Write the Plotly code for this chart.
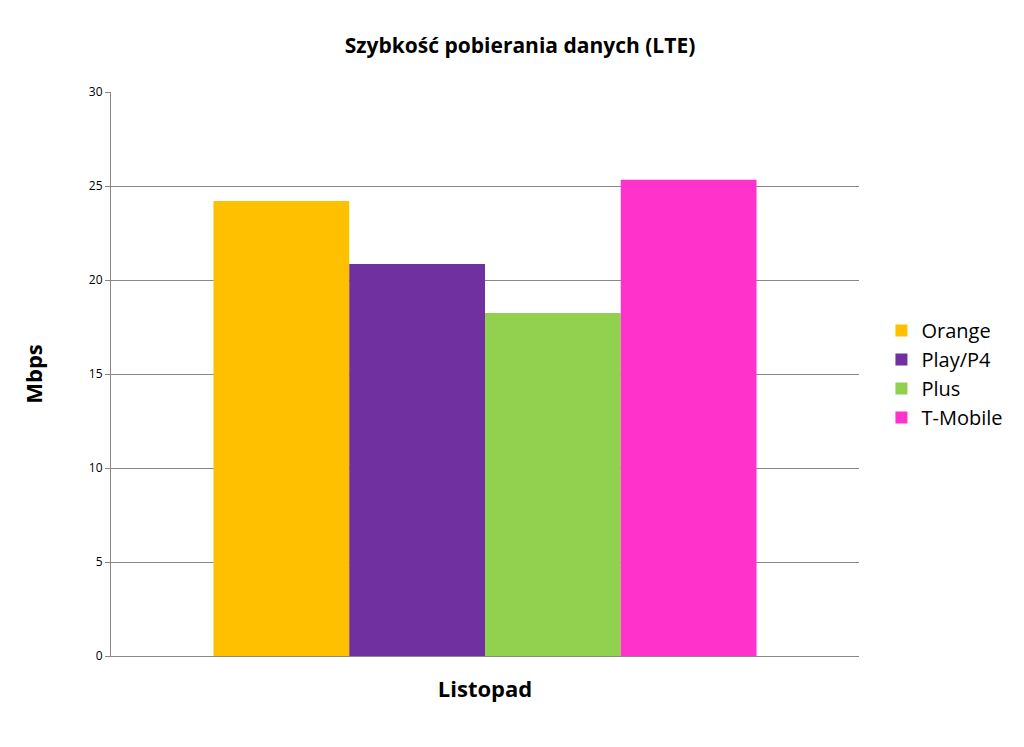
import plotly.graph_objects as go

operators = ["Orange", "Play/P4", "Plus", "T-Mobile"]
speeds = [24.2, 20.85, 18.25, 25.33]
colors = ["#FFC000", "#7030A0", "#92D050", "#FF33CC"]
category = ["Listopad"]

fig = go.Figure()
for name, val, col in zip(operators, speeds, colors):
    fig.add_trace(go.Bar(x=category, y=[val], name=name, marker_color=col,
                         marker_line_width=0))

fig.update_layout(
    width=1024, height=747,
    paper_bgcolor="white", plot_bgcolor="white",
    font=dict(family="Open Sans, DejaVu Sans", color="black"),
    title=dict(text="<b>Szybkość pobierania danych (LTE)</b>", x=0.5, y=0.96,
               xanchor="center", font=dict(size=21)),
    margin=dict(l=103, r=173, t=84, b=99, autoexpand=False),
    barmode="group", bargap=0.274, bargroupgap=0,
    legend=dict(x=1.03, y=0.5, yanchor="middle", font=dict(size=20),
                tracegroupgap=0, itemwidth=30),
    xaxis=dict(title=dict(text="<b>Listopad</b>", font=dict(size=22), standoff=25),
               showticklabels=False, showline=True, linecolor="#888",
               ticks=""),
    yaxis=dict(title=dict(text="<b>Mbps</b>", font=dict(size=22), standoff=40),
               range=[0, 30], dtick=5, showgrid=True, gridcolor="#888",
               tickfont=dict(size=12), showline=True, linecolor="#888",
               ticks="outside", ticklen=5, tickcolor="#888"),
)
fig.write_html("out.html")
